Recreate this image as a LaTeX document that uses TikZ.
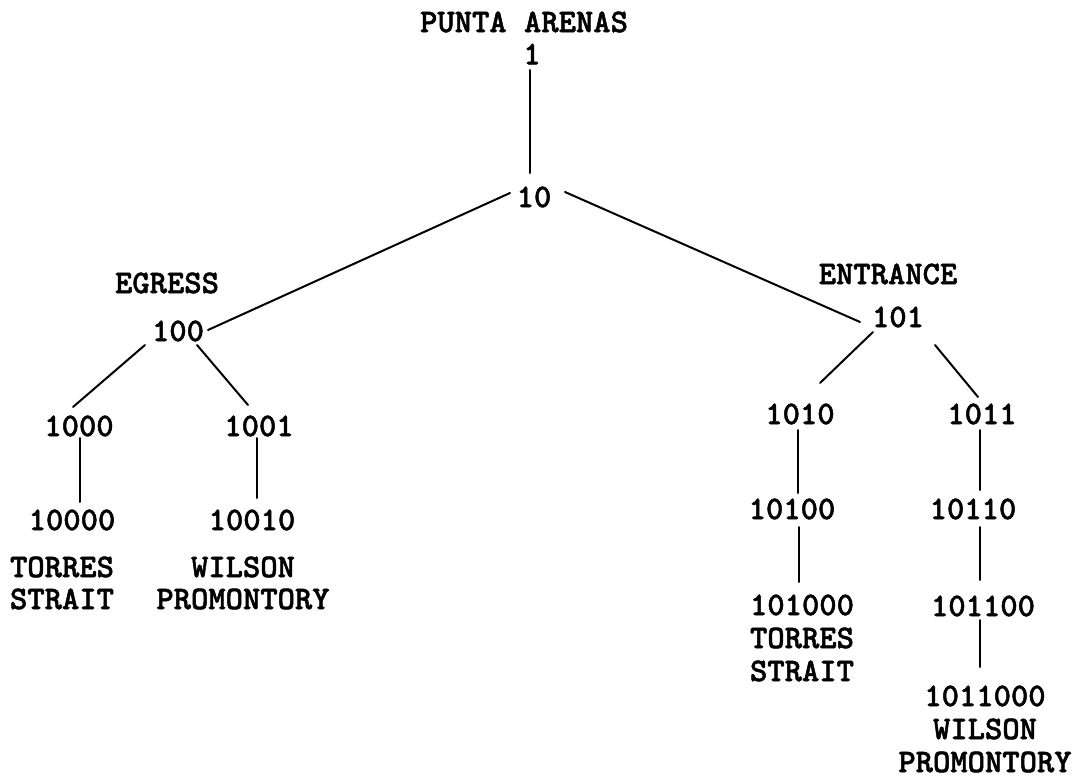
\documentclass[tikz,border=0pt]{standalone}
\usepackage{fontspec}
\newfontfamily\typewr[FakeBold=1.5]{lmmonolt10-bold.otf}
\usetikzlibrary{calc}
\begin{document}
\begin{tikzpicture}[x=1pt,y=-1pt,
  lbl/.style={font=\fontsize{33}{32}\selectfont\typewr, inner sep=0pt, outer sep=0pt, align=center},
  lblwide/.style={lbl, font=\fontsize{33}{33}\selectfont\typewr},
  edge/.style={line width=2pt, black, line cap=round}]
\path[use as bounding box, fill=white] (0,0) rectangle (1085,784);

% nodes
\node[lbl] (pa) at (524,22) {PUNTA ARENAS};
\node[lbl] (n1) at (532,54) {1};
\node[lbl] (n10) at (534,197) {10};
\node[lbl] (egress) at (167,283) {EGRESS};
\node[lbl] (n100) at (178,331) {100};
\node[lbl] (entrance) at (888,274) {ENTRANCE};
\node[lbl] (n101) at (898,317) {101};
\node[lbl] (n1000) at (79,426) {1000};
\node[lbl] (n1001) at (259,426) {1001};
\node[lbl] (n10000) at (72,520) {10000};
\node[lbl] (n10010) at (252,520) {10010};
\node[lbl] (torresL) at (62,583) {TORRES\\STRAIT};
\node[lbl] (wilsonL) at (243,583) {WILSON\\PROMONTORY};
\node[lbl] (n1010) at (800,414) {1010};
\node[lbl] (n1011) at (982,414) {1011};
\node[lbl] (n10100) at (792,509) {10100};
\node[lbl] (n10110) at (973,509) {10110};
\node[lblwide] (n101000) at (802,638) {101000\\TORRES\\STRAIT};
\node[lbl] (n101100) at (983,606) {101100};
\node[lblwide] (n1011000) at (985,729) {1011000\\WILSON\\PROMONTORY};

% connectors
\draw[edge] ($(n1)+(-2,16)$) -- ($(n10)+(-4,-24)$);
\draw[edge] ($(n10)+(-24,-4)$) -- ($(n100)+(30,-1)$);
\draw[edge] ($(n10)+(31,-5)$) -- ($(n101)+(-38,5)$);
\draw[edge] ($(n100)+(-33,14)$) -- ($(n1000)+(-6,-19)$);
\draw[edge] ($(n100)+(19,14)$) -- ($(n1001)+(-11,-21)$);
\draw[edge] ($(n1000)+(1,12)$) -- ($(n10000)+(8,-18)$);
\draw[edge] ($(n1001)+(-2,12)$) -- ($(n10010)+(5,-22)$);
\draw[edge] ($(n101)+(-25,15)$) -- ($(n1010)+(20,-31)$);
\draw[edge] ($(n101)+(37,28)$) -- ($(n1011)+(-4,-17)$);
\draw[edge] ($(n1010)+(-2,16)$) -- ($(n10100)+(6,-16)$);
\draw[edge] ($(n1011)+(-2,16)$) -- ($(n10110)+(7,-19)$);
\draw[edge] ($(n10100)+(7,18)$) -- ($(n101000)+(-3,-56)$);
\draw[edge] ($(n10110)+(7,18)$) -- ($(n101100)+(-3,-26)$);
\draw[edge] ($(n101100)+(-3,14)$) -- ($(n1011000)+(-5,-62)$);
\end{tikzpicture}
\end{document}
